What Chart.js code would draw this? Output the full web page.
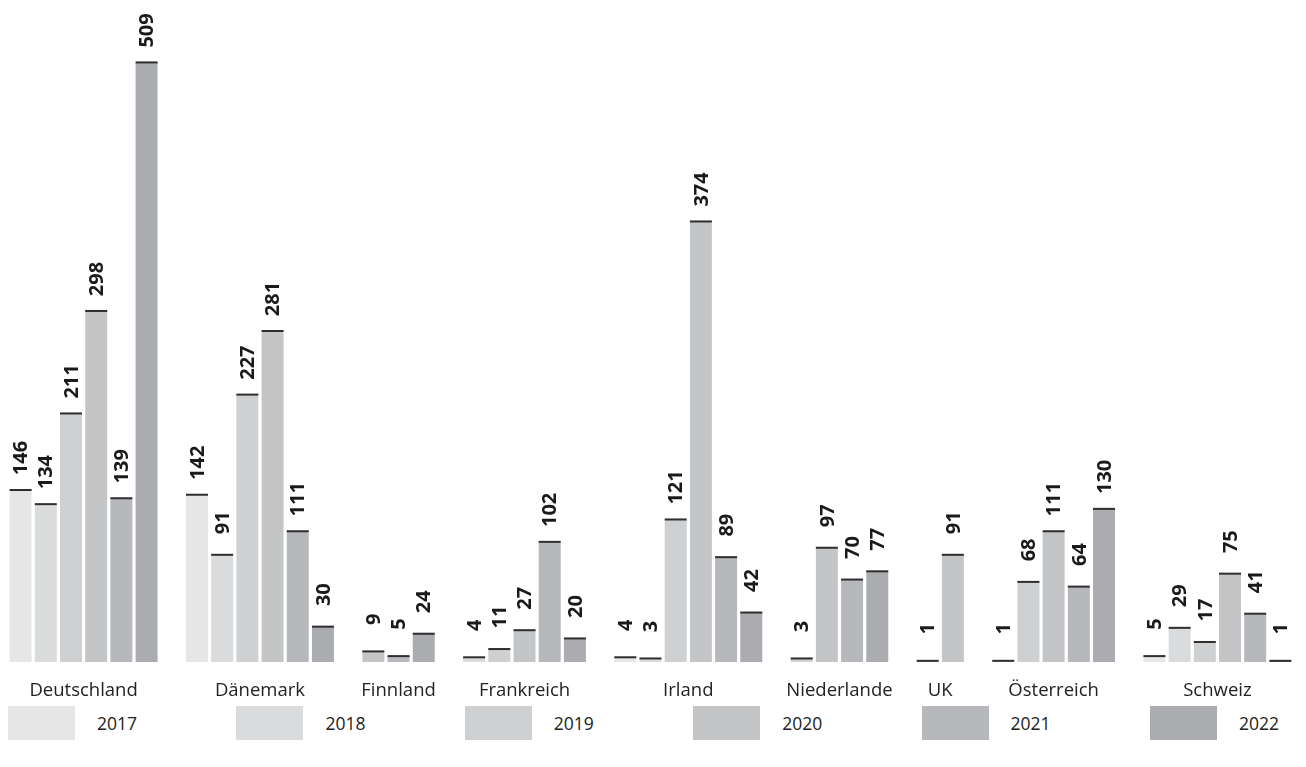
<!DOCTYPE html>
<html lang="de">
<head>
<meta charset="utf-8">
<title>Werte nach Land und Jahr</title>
<script src="https://cdn.jsdelivr.net/npm/chart.js@4/dist/chart.umd.min.js"></script>
<style>
  html, body { margin: 0; padding: 0; background: #fff; }
  body {
    width: 1306px;
    height: 767px;
    position: relative;
    overflow: hidden;
    font-family: "Open Sans", "Noto Sans", sans-serif;
    color: #222;
  }
  #chart { position: absolute; left: 0; top: 0; }
  #legend { position: absolute; left: 8px; top: 706px; display: flex; }
  .legend-item { width: 228.4px; height: 34px; display: flex; align-items: center; }
  .legend-swatch { width: 67px; height: 34px; }
  .legend-label { margin-left: 22px; font-size: 17.5px; }
</style>
</head>
<body>
<canvas id="chart" width="1306" height="700"></canvas>
<div id="legend"></div>
<script>
const countries = ["Deutschland", "Dänemark", "Finnland", "Frankreich", "Irland", "Niederlande", "UK", "Österreich", "Schweiz"];
const years = ["2017", "2018", "2019", "2020", "2021", "2022"];
const yearColors = ["#e6e6e7", "#dadbdc", "#cfd0d1", "#c4c5c7", "#b7b8bb", "#abacaf"];

// one entry per country, null where a year is not reported
const values2017 = [146, 142, null, null, 4, null, null, null, 5];
const values2018 = [134, 91, null, 4, 3, null, null, 1, 29];
const values2019 = [211, 227, null, 11, 121, 3, 1, 68, 17];
const values2020 = [298, 281, 9, 27, 374, 97, 91, 111, 75];
const values2021 = [139, 111, 5, 102, 89, 70, null, 64, 41];
const values2022 = [509, 30, 24, 20, 42, 77, null, 130, 1];

const seriesByYear = [values2017, values2018, values2019, values2020, values2021, values2022];

const $ = (id) => document.getElementById(id);

// Each reported value gets its own slot; an empty slot separates countries.
function buildSlots() {
  const slots = [];
  const groups = [];
  countries.forEach((country, c) => {
    if (c > 0) slots.push(null);
    const start = slots.length;
    years.forEach((year, y) => {
      const value = seriesByYear[y][c];
      if (value !== null) slots.push({ c, y, value });
    });
    groups.push({ country, start, end: slots.length - 1 });
  });
  return { slots, groups };
}

const { slots, groups } = buildSlots();

const datasets = years.map((year, y) => ({
  label: year,
  data: slots.map((slot) => (slot && slot.y === y ? slot.value : null)),
  backgroundColor: yearColors[y],
  borderWidth: 0,
  barPercentage: 0.873,
  categoryPercentage: 1,
}));

const barDecorations = {
  id: "barDecorations",
  afterDatasetsDraw(chart) {
    const ctx = chart.ctx;
    ctx.save();
    chart.data.datasets.forEach((dataset, d) => {
      const meta = chart.getDatasetMeta(d);
      meta.data.forEach((bar, i) => {
        const value = dataset.data[i];
        if (value === null) return;
        // dark cap on top of each bar
        ctx.fillStyle = "#2e2e2e";
        ctx.fillRect(bar.x - bar.width / 2, bar.y - 1, bar.width, 2);
        // rotated value label
        ctx.save();
        ctx.translate(bar.x, bar.y - 32);
        ctx.rotate(-Math.PI / 2);
        ctx.fillStyle = "#1a1a1a";
        ctx.font = 'bold 20px "Open Sans", sans-serif';
        ctx.textAlign = "center";
        ctx.textBaseline = "middle";
        ctx.fillText(String(value), 0, 1);
        ctx.restore();
      });
    });
    ctx.restore();
  },
  afterDraw(chart) {
    const ctx = chart.ctx;
    const x = chart.scales.x;
    ctx.save();
    ctx.fillStyle = "#222";
    ctx.font = '18.5px "Open Sans", sans-serif';
    ctx.textAlign = "center";
    ctx.textBaseline = "middle";
    groups.forEach((group) => {
      const center = (x.getPixelForValue(group.start) + x.getPixelForValue(group.end)) / 2;
      ctx.fillText(group.country, center, 691);
    });
    ctx.restore();
  },
};

function renderLegend() {
  $("legend").innerHTML = years
    .map(
      (year, y) => `
        <div class="legend-item">
          <span class="legend-swatch" style="background:${yearColors[y]}"></span>
          <span class="legend-label">${year}</span>
        </div>
      `
    )
    .join("");
}

new Chart($("chart"), {
  type: "bar",
  data: {
    labels: slots.map((_, i) => String(i)),
    datasets,
  },
  options: {
    responsive: false,
    animation: false,
    devicePixelRatio: 1,
    layout: { padding: { left: 8, right: 13, top: 0, bottom: 38 } },
    plugins: {
      legend: { display: false },
      tooltip: { enabled: false },
    },
    scales: {
      x: { stacked: true, display: false },
      y: { stacked: true, display: false, min: 0, max: 562 },
    },
  },
  plugins: [barDecorations],
});

renderLegend();
</script>
</body>
</html>
